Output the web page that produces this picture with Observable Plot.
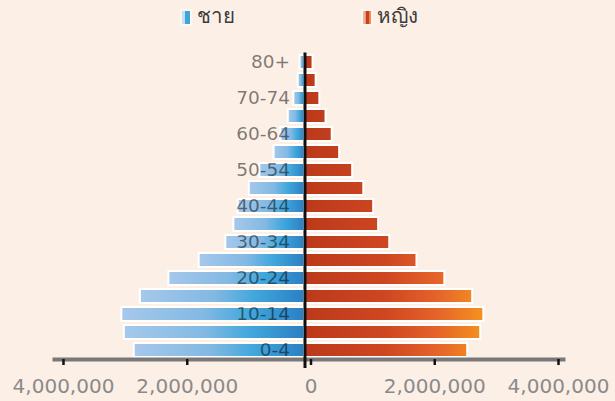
<!DOCTYPE html>
<html>
<head>
<meta charset="utf-8">
<script src="https://cdn.jsdelivr.net/npm/d3@7"></script>
<script src="https://cdn.jsdelivr.net/npm/@observablehq/plot@0.6"></script>
<style>
  html, body { margin: 0; padding: 0; background: #fcefe6; }
  body { width: 615px; height: 401px; overflow: hidden; font-family: "DejaVu Sans", "Noto Sans", sans-serif; }
  #legend { position: relative; height: 36px; }
  .sw { position: absolute; top: 9px; width: 8px; height: 13px; border: 2px solid #fdf7f3; }
  .lt { position: absolute; top: -1px; font-size: 20.5px; color: #3c3c3c; }
</style>
</head>
<body>
<div id="legend">
  <div class="sw" style="left:180px;background:linear-gradient(90deg,#c5dff3 0%,#c5dff3 35%,#3ea6dc 40%,#3ea6dc 100%)"></div>
  <div class="lt" id="l0" style="left:197px"></div>
  <div class="sw" style="left:361px;background:linear-gradient(90deg,#f0b39c 0%,#f0b39c 30%,#c93f1c 35%,#c93f1c 75%,#f08a50 80%)"></div>
  <div class="lt" id="l1" style="left:377px"></div>
</div>
<div id="chart"></div>
<script>
const seriesNames = ["ชาย", "หญิง"];
const ages = ["0-4","5-9","10-14","15-19","20-24","25-29","30-34","35-39","40-44","45-49","50-54","55-59","60-64","65-69","70-74","75-79","80+"];
const male   = [2760000,2920000,2960000,2660000,2200000,1710000,1280000,1150000,1080000,900000,730000,500000,390000,270000,180000,110000,80000];
const female = [2630000,2840000,2890000,2710000,2260000,1810000,1370000,1190000,1110000,950000,770000,560000,440000,340000,240000,180000,130000];
const ageLabels = ["0-4","10-14","20-24","30-34","40-44","50-54","60-64","70-74","80+"];
const xTicks = [-4000000,-2000000,0,2000000,4000000];

document.getElementById("l0").textContent = seriesNames[0];
document.getElementById("l1").textContent = seriesNames[1];

const rows = ages.map((a, i) => ({age: a, male: male[i], female: female[i]}));
const fmt = d3.format(",");

const chart = Plot.plot({
  width: 615,
  height: 365,
  marginTop: 16.5,
  marginBottom: 42,
  marginLeft: 54,
  marginRight: 52,
  style: {background: "transparent", fontFamily: "DejaVu Sans, sans-serif"},
  x: {domain: [-4000000, 4000000], range: [57, 552], label: null},
  y: {domain: ages.slice().reverse(), range: [16.5, 323], paddingInner: 0.2, paddingOuter: 0.1, axis: null},
  marks: [
    Plot.barX(rows, {y: "age", x: d => -d.male, fill: "url(#gm)", stroke: "white", strokeWidth: 2}),
    Plot.barX(rows, {y: "age", x: "female", fill: "url(#gf)", stroke: "white", strokeWidth: 2}),
    Plot.frame({anchor: "bottom", stroke: "#787878", strokeWidth: 4}),
    Plot.axisX(xTicks, {label: null, tickSize: 6, tickPadding: 13, stroke: "#111", strokeWidth: 2.5, fontSize: 20, fill: "#8a8a8a", dx: 6, tickFormat: d => fmt(Math.abs(d))}),
    Plot.ruleX([0], {stroke: "#111", strokeWidth: 3, insetBottom: -9}),
    Plot.text(ageLabels, {y: d => d, x: () => 0, textAnchor: "end", dx: -15, fontSize: 18.5, fill: "black", fillOpacity: 0.5})
  ]
});

const xs = chart.scale("x");
const defs = d3.select(chart).insert("defs", ":first-child");
const gm = defs.append("linearGradient").attr("id", "gm").attr("x1", 0).attr("x2", 1).attr("y1", 0).attr("y2", 0);
[[0,"#a6c8eb"],[0.45,"#82b9e3"],[0.7,"#41a7dc"],[1,"#2a7fc3"]].forEach(([o,c]) => gm.append("stop").attr("offset", o).attr("stop-color", c));
const gf = defs.append("linearGradient").attr("id", "gf").attr("gradientUnits", "userSpaceOnUse")
  .attr("x1", xs.apply(0)).attr("x2", xs.apply(2950000)).attr("y1", 0).attr("y2", 0);
[[0,"#bb391b"],[0.45,"#cf4721"],[0.72,"#e4622a"],[1,"#f6961e"]].forEach(([o,c]) => gf.append("stop").attr("offset", o).attr("stop-color", c));

document.getElementById("chart").appendChild(chart);
</script>
</body>
</html>
